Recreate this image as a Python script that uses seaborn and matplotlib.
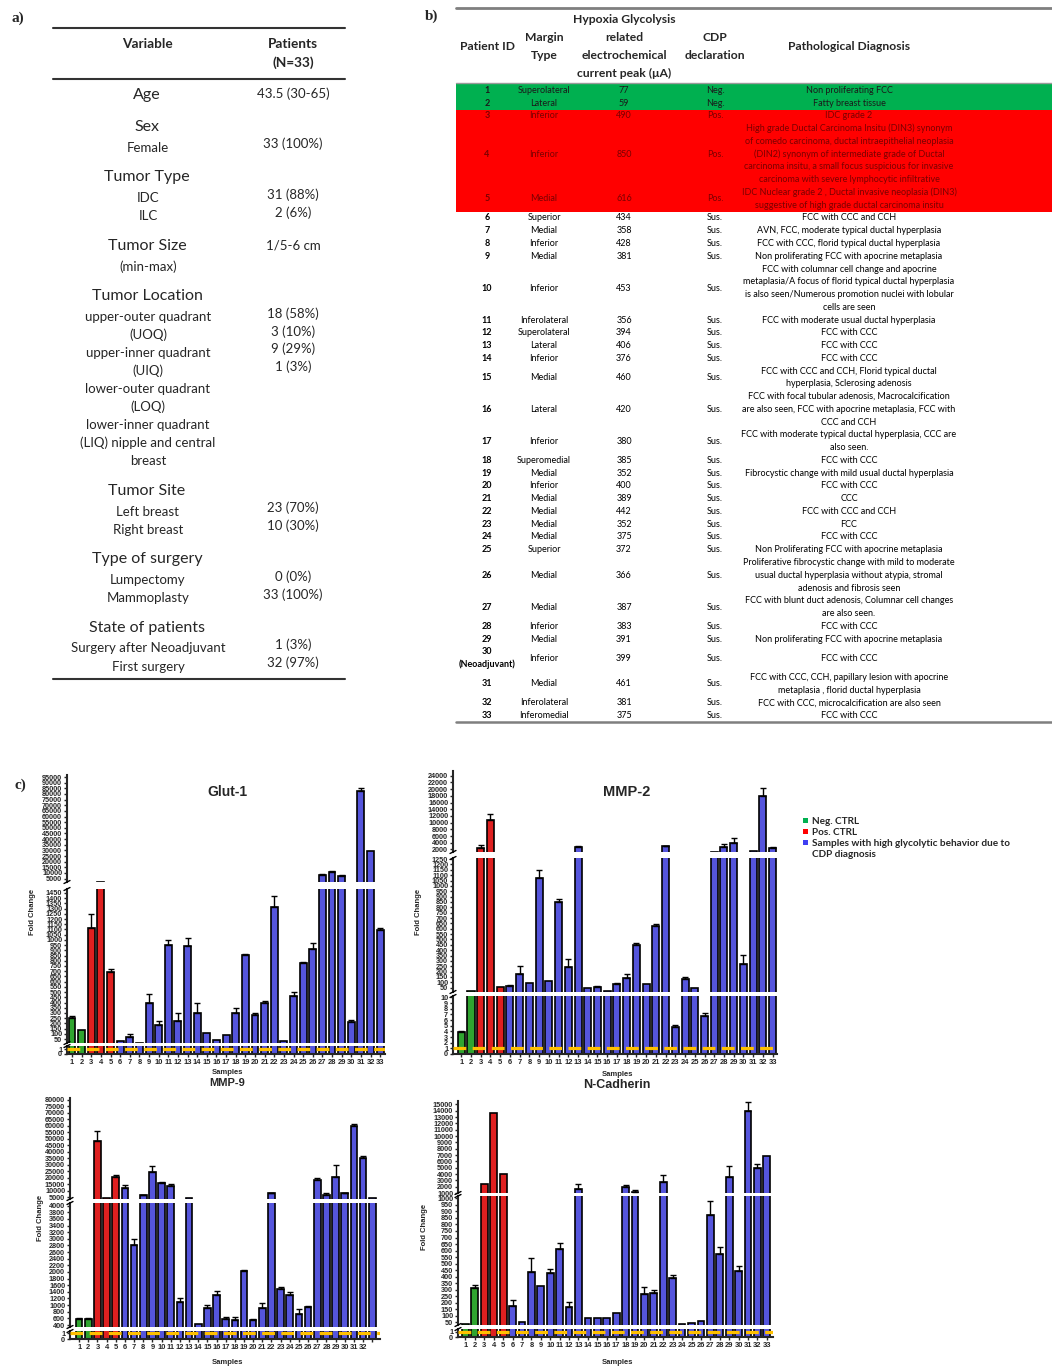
import numpy as np
import pandas as pd
import matplotlib
matplotlib.use("Agg")
import matplotlib.pyplot as plt
from matplotlib.lines import Line2D
from matplotlib.patches import Patch, Rectangle
from matplotlib import font_manager
import seaborn as sns

sns.set_style("ticks")
names = {f.name for f in font_manager.fontManager.ttflist}
NARROW = "Liberation Sans Narrow" if "Liberation Sans Narrow" in names else "Lato"
plt.rcParams["font.family"] = ["Liberation Sans", "DejaVu Sans"]

# ---------------- data: table a ----------------
a_headers = ["Age", "Sex", "Tumor Type", "Tumor Size", "Tumor Location",
             "Tumor Site", "Type of surgery", "State of patients"]
a_items = [[], ["Female"], ["IDC", "ILC"], ["(min-max)"],
           ["upper-outer quadrant", "(UOQ)", "upper-inner quadrant", "(UIQ)",
            "lower-outer quadrant", "(LOQ)", "lower-inner quadrant",
            "(LIQ) nipple and central", "breast"],
           ["Left breast", "Right breast"], ["Lumpectomy", "Mammoplasty"],
           ["Surgery after Neoadjuvant", "First surgery"]]
a_values = [["43.5 (30-65)"], ["33 (100%)"], ["31 (88%)", "2 (6%)"], ["1/5-6 cm"],
            ["18 (58%)", "3 (10%)", "9 (29%)", "1 (3%)"], ["23 (70%)", "10 (30%)"],
            ["0 (0%)", "33 (100%)"], ["1 (3%)", "32 (97%)"]]
a_value_on_header = [True, False, False, True, False, False, False, False]

# ---------------- data: table b ----------------
patient_ids = [str(i) for i in range(1, 30)] + ["30\n(Neoadjuvant)", "31", "32", "33"]
margin_types = ["Superolateral", "Lateral", "Inferior", "Inferior", "Medial", "Superior",
                "Medial", "Inferior", "Medial", "Inferior", "Inferolateral", "Superolateral",
                "Lateral", "Inferior", "Medial", "Lateral", "Inferior", "Superomedial",
                "Medial", "Inferior", "Medial", "Medial", "Medial", "Medial", "Superior",
                "Medial", "Medial", "Inferior", "Medial", "Inferior", "Medial",
                "Inferolateral", "Inferomedial"]
current_peaks = [77, 59, 490, 850, 616, 434, 358, 428, 381, 453, 356, 394, 406, 376, 460,
                 420, 380, 385, 352, 400, 389, 442, 352, 375, 372, 366, 387, 383, 391,
                 399, 461, 381, 375]
cdp_decl = ["Neg."] * 2 + ["Pos."] * 3 + ["Sus."] * 28
diagnoses = [
    "Non proliferating FCC",
    "Fatty breast tissue",
    "IDC grade 2",
    "High grade Ductal Carcinoma Insitu (DIN3) synonym\nof comedo carcinoma, ductal intraepithelial neoplasia\n"
    "(DIN2) synonym of intermediate grade of Ductal\ncarcinoma insitu, a small focus suspicious for invasive\n"
    "carcinoma with severe lymphocytic infiltrative",
    "IDC Nuclear grade 2 , Ductal invasive neoplasia (DIN3)\nsuggestive of high grade ductal carcinoma insitu",
    "FCC with CCC and CCH",
    "AVN, FCC, moderate typical ductal hyperplasia",
    "FCC with CCC, florid typical ductal hyperplasia",
    "Non proliferating FCC with apocrine metaplasia",
    "FCC with columnar cell change and apocrine\nmetaplasia/A focus of florid typical ductal hyperplasia\n"
    "is also seen/Numerous promotion nuclei with lobular\ncells are seen",
    "FCC with moderate usual ductal hyperplasia",
    "FCC with CCC",
    "FCC with CCC",
    "FCC with CCC",
    "FCC with CCC and CCH, Florid typical ductal\nhyperplasia, Sclerosing adenosis",
    "FCC with focal tubular adenosis, Macrocalcification\nare also seen, FCC with apocrine metaplasia, FCC with\nCCC and CCH",
    "FCC with moderate typical ductal hyperplasia, CCC are\nalso seen.",
    "FCC with CCC",
    "Fibrocystic change with mild usual ductal hyperplasia",
    "FCC with CCC",
    "CCC",
    "FCC with CCC and CCH",
    "FCC",
    "FCC with CCC",
    "Non Proliferating FCC with apocrine metaplasia",
    "Proliferative fibrocystic change with mild to moderate\nusual ductal hyperplasia without atypia, stromal\nadenosis and fibrosis seen",
    "FCC with blunt duct adenosis, Columnar cell changes\nare also seen.",
    "FCC with CCC",
    "Non proliferating FCC with apocrine metaplasia",
    "FCC with CCC",
    "FCC with CCC, CCH, papillary lesion with apocrine\nmetaplasia , florid ductal hyperplasia",
    "FCC with CCC, microcalcification are also seen",
    "FCC with CCC",
]
b_headers = ["Patient ID", "Margin\nType", "Hypoxia Glycolysis\nrelated\nelectrochemical\ncurrent peak (\u03bcA)",
             "CDP\ndeclaration", "Pathological Diagnosis"]

# ---------------- data: panel c ----------------
samples = [str(i) for i in range(1, 34)]
groups = ["Neg. CTRL"] * 2 + ["Pos. CTRL"] * 3 + ["CDP"] * 28

glut1_mean = [250, 140, 1115, 2400, 690, 30, 65, 16, 395, 185, 950, 225, 945, 295, 110, 38, 85,
              300, 855, 285, 400, 1315, 35, 460, 780, 910, 8500, 11000, 7000, 210, 83000, 29500, 1095]
glut1_upper = [275, 140, 1245, 2400, 720, 30, 95, 16, 480, 225, 1000, 295, 1015, 395, 110, 38, 85,
               345, 865, 300, 415, 1420, 35, 505, 790, 970, 9500, 11500, 8500, 230, 85000, 29500, 1115]

mmp2_mean = [3.9, 20, 2500, 10800, 60, 65, 180, 90, 1070, 110, 850, 245, 2600, 45, 60, 22, 80,
             145, 450, 85, 630, 3000, 4.7, 135, 50, 6.8, 1350, 2700, 3800, 270, 1550, 18000, 2400]
mmp2_upper = [4.1, 20, 3300, 12500, 60, 75, 255, 90, 1150, 110, 880, 315, 3000, 45, 70, 22, 95,
              175, 470, 85, 645, 3100, 5.1, 150, 50, 7.3, 1350, 3600, 5500, 355, 1550, 20200, 2700]

mmp9_mean = [580, 575, 48000, 4700, 21000, 12000, 2800, 6500, 24500, 16000, 13500, 1100, 4200,
             430, 900, 1300, 580, 540, 2020, 540, 920, 8000, 1480, 1310, 720, 940, 18000, 6500,
             21000, 8000, 60000, 35500, 4500]
mmp9_upper = [610, 600, 56000, 4700, 22500, 14500, 3000, 7000, 29000, 16800, 15500, 1200, 4200,
              430, 1000, 1430, 650, 650, 2050, 570, 1050, 8500, 1560, 1400, 880, 960, 19500, 8500,
              30000, 8500, 61500, 36500, 4500]
mmp9_ticklabels = samples[:32] + [""]

ncad_mean = [40, 315, 2500, 13600, 4000, 175, 50, 435, 325, 425, 615, 170, 1700, 80, 80, 80, 125,
             2000, 1100, 270, 275, 2700, 390, 40, 45, 60, 870, 575, 3600, 445, 14000, 4900, 6800]
ncad_upper = [40, 335, 2500, 13600, 4000, 220, 50, 545, 325, 460, 660, 205, 2500, 80, 80, 80, 125,
              2200, 1500, 320, 300, 3800, 415, 40, 45, 60, 980, 630, 5200, 485, 15300, 5600, 6800]

palette = {"Neg. CTRL": "#1DB81D", "Pos. CTRL": "#FF0000", "CDP": "#3F3FF2"}
legend_labels = ["Neg. CTRL", "Pos. CTRL", "Samples with high glycolytic behavior due to"]
legend_colors = ["#00B050", "#FF0000", "#3F3FF2"]

# ---------------- figure ----------------
W, H = 1052, 1367
fig = plt.figure(figsize=(W / 100, H / 100), dpi=100)


def fx(x):
    return x / W


def fy(y):
    return 1 - y / H


def hline(x0, x1, y, color="#333333", lw=1.5):
    fig.add_artist(Line2D([fx(x0), fx(x1)], [fy(y), fy(y)], color=color, lw=lw))


def lines_at(x, yc, text, lh, **kw):
    parts = text.split("\n")
    for i, p in enumerate(parts):
        fig.text(fx(x), fy(yc + (i - (len(parts) - 1) / 2) * lh), p, ha="center", va="center", **kw)


# panel labels
for lab, x, y in [("a)", 18, 18), ("b)", 432, 16), ("c)", 20, 785)]:
    fig.text(fx(x), fy(y), lab, family="Liberation Serif", weight="bold", fontsize=11,
             ha="center", va="center")

# ---- table a ----
hline(53, 345, 28)
hline(53, 345, 79)
hline(53, 345, 679)
fig.text(fx(147), fy(44), "Variable", family="Lato", weight="bold", fontsize=9.8, ha="center", va="center")
lines_at(293, 53.5, "Patients\n(N=33)", 19, family="Lato", weight="bold", fontsize=9.8)
y = 95
for hdr, items, vals, onh in zip(a_headers, a_items, a_values, a_value_on_header):
    fig.text(fx(147), fy(y), hdr, family="Lato", fontsize=11.5, ha="center", va="center")
    vy = y - 1 if onh else y + 17
    for k, v in enumerate(vals):
        fig.text(fx(293), fy(vy + k * 17.8), v, family="Lato", fontsize=9.5, ha="center", va="center")
    yy = y + 20.5
    for it in items:
        fig.text(fx(148), fy(yy), it, family="Lato", fontsize=9.5, ha="center", va="center")
        yy += 18
    y = (yy - 18 + 30) if items else y + 32

# ---- table b ----
col_x = [487, 544, 624, 715, 849]
lh = 12.76
row_n = [max(len(p.split("\n")), len(d.split("\n"))) for p, d in zip(patient_ids, diagnoses)]
starts = 84 + np.concatenate([[0], np.cumsum(row_n)[:-1]]) * lh
band = {"Neg.": "#00B050", "Pos.": "#FF0000"}
txtcol = {"Neg.": "#1a1a1a", "Pos.": "#7a0000", "Sus.": "black"}
for cdp in ["Neg.", "Pos."]:
    idx = [i for i, c in enumerate(cdp_decl) if c == cdp]
    y0 = starts[idx[0]]
    y1 = starts[idx[-1]] + row_n[idx[-1]] * lh
    fig.add_artist(Rectangle((fx(456), fy(y1)), fx(1052) - fx(456), (y1 - y0) / H,
                             facecolor=band[cdp], edgecolor="none", zorder=0))
hline(456, 1052, 8, color="#7f7f7f", lw=2)
hline(456, 1052, 83, color="#9a9a9a", lw=1)
hline(456, 1052, 722, color="#7f7f7f", lw=1.8)
for x, h in zip(col_x, b_headers):
    lines_at(x, 46.5, h, 17.8, family=NARROW, weight="bold", fontsize=8.7)
for i in range(len(patient_ids)):
    yc = starts[i] + row_n[i] * lh / 2
    c = txtcol[cdp_decl[i]]
    cells = [patient_ids[i], margin_types[i], str(current_peaks[i]), cdp_decl[i], diagnoses[i]]
    for j, (x, t) in enumerate(zip(col_x, cells)):
        lines_at(x, yc, t, lh, family=NARROW, fontsize=6.5, color=c,
                 weight="bold" if j == 0 else "normal")


# ---- panel c: broken-axis bar charts ----
def draw_chart(mean, upper, x0, x1, xlim, segs, ticklabels):
    pos = np.arange(len(samples))
    m = np.array(mean, dtype=float)
    up = np.array(upper, dtype=float)
    prev = None
    for k, (ytop, ybot, ylim, ticks) in enumerate(segs):
        last = k == len(segs) - 1
        ax = fig.add_axes([fx(x0), fy(ybot), (x1 - x0) / W, (ybot - ytop) / H])
        # bars that never reach this segment are left out so their edges do not bleed in
        seg_vals = np.where(m >= ylim[0], m, 0)
        df = pd.DataFrame({"sample": samples, "value": seg_vals, "group": groups})
        sns.barplot(data=df, x="sample", y="value", hue="group", order=samples,
                    hue_order=list(palette), palette=palette, dodge=False, width=0.72,
                    edgecolor="black", linewidth=1.2, errorbar=None, legend=False, ax=ax)
        has = (up > m) & (up >= ylim[0])
        if has.any():
            ax.errorbar(pos[has], m[has], yerr=[np.zeros(has.sum()), (up - m)[has]], fmt="none",
                        ecolor="black", elinewidth=1, capsize=2, capthick=1)
        ax.set_xlim(*xlim)
        ax.set_ylim(*ylim)
        ax.set_yticks(ticks)
        ax.set_yticklabels([f"{t:g}" for t in ticks], fontsize=5.2, fontweight="bold")
        ax.set_xlabel("")
        ax.set_ylabel("")
        ax.patch.set_alpha(0)
        for s in ["top", "right"]:
            ax.spines[s].set_visible(False)
        ax.spines["left"].set_linewidth(1.5)
        ax.tick_params(axis="y", length=2.5, width=1, pad=1)
        if last:
            ax.axhline(1, color="#FFC000", lw=2.3, ls=(0, (4, 2)), zorder=5)
            ax.spines["bottom"].set_linewidth(1.5)
            ax.set_xticks(pos)
            ax.set_xticklabels(ticklabels, fontsize=5.4, fontweight="bold")
            ax.tick_params(axis="x", length=2.5, width=1, pad=1)
        else:
            ax.spines["bottom"].set_visible(False)
            ax.tick_params(axis="x", bottom=False, labelbottom=False)
        if prev is not None:
            # break marks on the left spine
            for yb in (prev, ytop):
                fig.add_artist(Line2D([fx(x0 - 3), fx(x0 + 3)], [fy(yb + 1.5), fy(yb - 1.5)],
                                      color="black", lw=1))
        prev = ybot


def chart_labels(title, tsize, tx, ty, ylx, yly, sx, sy):
    fig.text(fx(tx), fy(ty), title, fontsize=tsize, fontweight="bold", ha="center", va="center")
    fig.text(fx(ylx), fy(yly), "Fold Change", fontsize=5.5, fontweight="bold", rotation=90,
             ha="center", va="center")
    fig.text(fx(sx), fy(sy), "Samples", fontsize=5.5, fontweight="bold", ha="center", va="center")


draw_chart(glut1_mean, glut1_upper, 67, 385, (-0.52, 32.5),
           [(775, 882, (2000, 96800), np.arange(5000, 95001, 5000)),
            (889, 1043, (12, 1488), np.arange(50, 1451, 50)),
            (1046, 1054, (0, 1.6), [0, 1])], samples)
chart_labels("Glut-1", 10, 227, 792, 32, 912, 227, 1073)

draw_chart(mmp2_mean, mmp2_upper, 453, 777, (-0.85, 32.45),
           [(771, 852, (1250, 25400), np.arange(2000, 24001, 2000)),
            (858, 992, (10, 1260), np.arange(50, 1251, 50)),
            (996, 1054, (0, 10.25), np.arange(0, 11))], samples)
chart_labels("MMP-2", 10.5, 627, 792, 418, 912, 618, 1075)

draw_chart(mmp9_mean, mmp9_upper, 70, 380, (-1.0, 32.85),
           [(1098, 1199, (3700, 81500), np.arange(5000, 80001, 5000)),
            (1203, 1327, (340, 4080), np.arange(400, 4001, 200)),
            (1331, 1339, (0, 1.4), [0, 1])], mmp9_ticklabels)
chart_labels("MMP-9", 8, 227, 1083, 40, 1218, 227, 1363)

draw_chart(ncad_mean, ncad_upper, 458, 773, (-0.79, 32.65),
           [(1101, 1193, (1000, 15530), np.arange(1000, 15001, 1000)),
            (1196, 1325, (30, 1018), np.arange(50, 1001, 50)),
            (1329, 1337, (0, 1.6), [0, 1])], samples)
chart_labels("N-Cadherin", 9, 617, 1085, 425, 1227, 617, 1363)

# legend
handles = [Patch(facecolor=c, edgecolor="none") for c in legend_colors] + [Patch(alpha=0)]
fig.legend(handles, legend_labels + ["CDP diagnosis"], loc="upper left",
           bbox_to_anchor=(fx(799), fy(813)), frameon=False, handlelength=0.45,
           handleheight=0.45, handletextpad=0.4, labelspacing=0.2, borderaxespad=0,
           prop=dict(family="Lato", weight="bold", size=7.2))

fig.savefig("out.png", dpi=100)
